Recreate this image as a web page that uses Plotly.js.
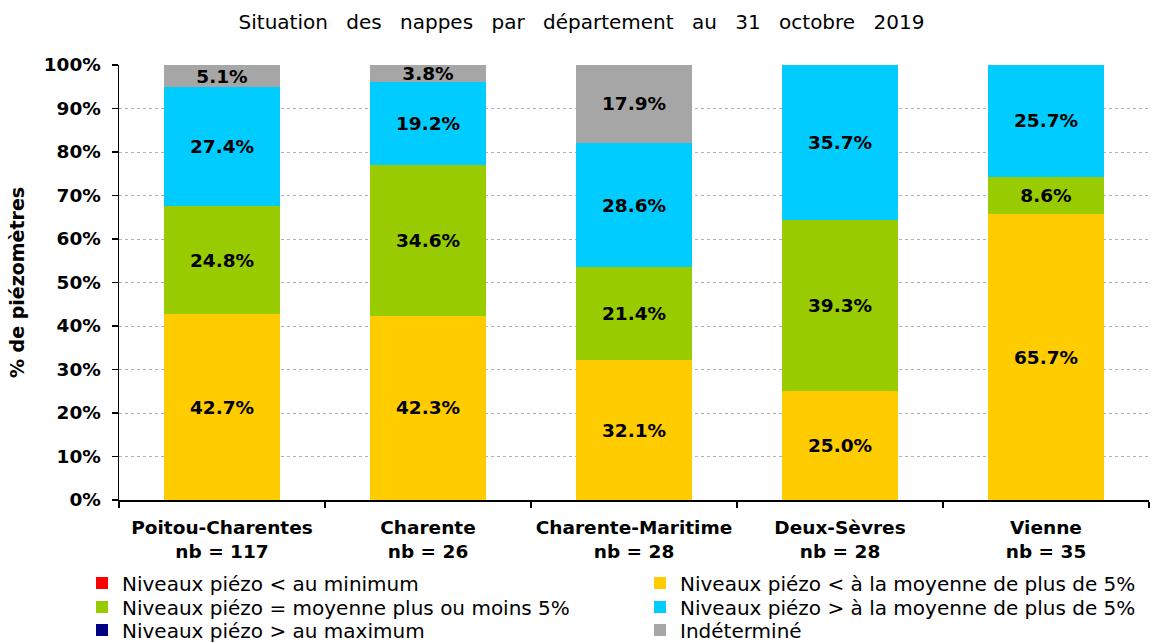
<!DOCTYPE html>
<html><head><meta charset="utf-8">
<script src="https://cdn.plot.ly/plotly-3.0.1.min.js"></script>
<style>html,body{margin:0;padding:0;background:#fff}#chart{width:1163px;height:643px}
.gtitle{word-spacing:12px}</style>
</head><body><div id="chart"></div>
<script>
const categories = ["Poitou-Charentes<br>nb = 117","Charente<br>nb = 26","Charente-Maritime<br>nb = 28","Deux-Sèvres<br>nb = 28","Vienne<br>nb = 35"];
const seriesNames = ["Niveaux piézo < au minimum","Niveaux piézo < à la moyenne de plus de 5%","Niveaux piézo = moyenne plus ou moins 5%","Niveaux piézo > à la moyenne de plus de 5%","Niveaux piézo > au maximum","Indéterminé"];
const belowMin   = [0, 0, 0, 0, 0];
const belowAvg   = [42.7, 42.3, 32.1, 25.0, 65.7];
const aroundAvg  = [24.8, 34.6, 21.4, 39.3, 8.6];
const aboveAvg   = [27.4, 19.2, 28.6, 35.7, 25.7];
const aboveMax   = [0, 0, 0, 0, 0];
const undetermined = [5.1, 3.8, 17.9, 0, 0];
const yTicks = [0,10,20,30,40,50,60,70,80,90,100];
const yTickLabels = yTicks.map(v => v + "%");

const colors = ["#FF0000","#FFCC00","#99CC00","#00CCFF","#000080","#A6A6A6"];
const values = [belowMin, belowAvg, aroundAvg, aboveAvg, aboveMax, undetermined];
const legendIds = ["legend","legend2","legend3","legend4","legend5","legend6"];
const FONT = "DejaVu Sans, Arial, sans-serif";

const traces = values.map((vals, i) => ({
  type: "bar",
  name: seriesNames[i],
  x: categories,
  y: vals,
  width: 0.56,
  marker: {color: colors[i], line: {width: 0}},
  text: vals.map(v => v > 0 ? v.toFixed(1) + "%" : ""),
  textposition: "inside",
  insidetextanchor: "middle",
  textangle: 0,
  textfont: {family: FONT, size: 18.5, color: "#000", weight: "bold"},
  cliponaxis: false,
  hoverinfo: "skip",
  legend: legendIds[i]
}));

const legendFont = {family: FONT, size: 20, color: "#000"};
// plot area: x 119..1149 px, y 65..500 px
const colX = [(82 - 119) / 1030, (640 - 119) / 1030];
const rowY = [(500 - 583) / 435, (500 - 607) / 435, (500 - 630) / 435];
function legendAt(col, row) {
  return {orientation: "v", x: colX[col], xanchor: "left",
          y: rowY[row], yanchor: "middle", font: legendFont, itemwidth: 30,
          bgcolor: "rgba(0,0,0,0)", borderwidth: 0};
}

const layout = {
  width: 1163, height: 643,
  margin: {l: 119, r: 14, t: 65, b: 143, autoexpand: false},
  paper_bgcolor: "#fff", plot_bgcolor: "#fff",
  barmode: "stack",
  font: {family: FONT, color: "#000"},
  uniformtext: {mode: "show", minsize: 18.5},
  title: {text: "Situation des nappes par département au 31 octobre 2019", x: 0.5, xref: "container", y: 1 - 22/643, yanchor: "middle", font: {family: FONT, size: 20, color: "#000"}},
  xaxis: {
    type: "category",
    tickson: "boundaries",
    ticks: "outside", ticklen: 6, tickcolor: "#000", tickwidth: 1.5,
    showline: true, linecolor: "#000", linewidth: 1.5,
    tickfont: {family: FONT, size: 18.5, color: "#000", weight: "bold"},
    tickangle: 0,
    ticklabelstandoff: 10,
    showgrid: false, fixedrange: true, automargin: false
  },
  yaxis: {
    range: [0, 100],
    tickvals: yTicks, ticktext: yTickLabels,
    ticks: "outside", ticklen: 6, tickcolor: "#000", tickwidth: 1.5,
    showline: true, linecolor: "#000", linewidth: 1.5,
    showgrid: true, gridcolor: "#b0b0b0", griddash: "dot", gridwidth: 1,
    zeroline: false,
    tickfont: {family: FONT, size: 18.5, color: "#000", weight: "bold"},
    ticklabelstandoff: 7,
    title: {text: "% de piézomètres", font: {family: FONT, size: 19, color: "#000", weight: "bold"}, standoff: 14},
    fixedrange: true, automargin: false
  },
  showlegend: true,
  legend: legendAt(0, 0),
  legend2: legendAt(1, 0),
  legend3: legendAt(0, 1),
  legend4: legendAt(1, 1),
  legend5: legendAt(0, 2),
  legend6: legendAt(1, 2)
};

Plotly.newPlot("chart", traces, layout, {displayModeBar: false, staticPlot: true});
</script></body></html>
